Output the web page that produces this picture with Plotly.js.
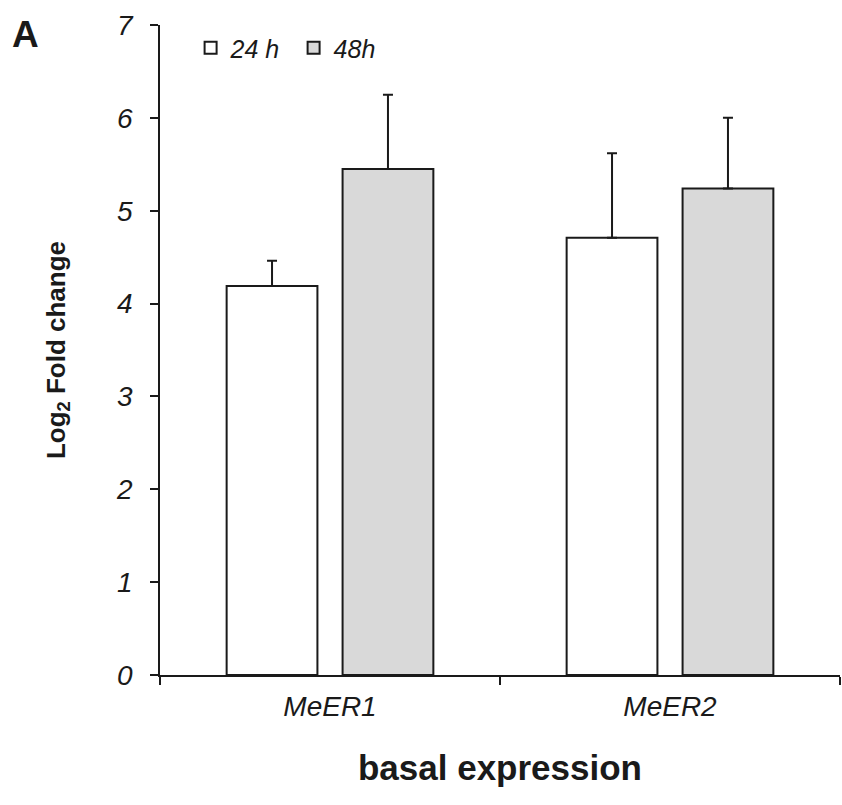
<!DOCTYPE html>
<html>
<head>
<meta charset="utf-8">
<script src="https://cdn.plot.ly/plotly-3.0.1.min.js"></script>
<style>html,body{margin:0;padding:0;background:#fff;}#chart{width:842px;height:805px;}</style>
</head>
<body>
<div id="chart"></div>
<script>
const categories = ["MeER1", "MeER2"];
const series24 = [4.19, 4.71];
const err24 = [0.27, 0.91];
const series48 = [5.45, 5.24];
const err48 = [0.80, 0.76];
const seriesNames = ["24 h", "48h"];
const yTicks = [0, 1, 2, 3, 4, 5, 6, 7];

const F = "Liberation Sans, Arial, sans-serif";
const lineCol = "#1a1a1a";

const traces = [
  {
    type: "bar", name: seriesNames[0], x: categories, y: series24,
    marker: {color: "#ffffff", line: {color: lineCol, width: 2}},
    error_y: {type: "data", array: err24, arrayminus: [0, 0], symmetric: false, color: lineCol, thickness: 2, width: 5}
  },
  {
    type: "bar", name: seriesNames[1], x: categories, y: series48,
    marker: {color: "#d9d9d9", line: {color: lineCol, width: 2}},
    error_y: {type: "data", array: err48, arrayminus: [0, 0], symmetric: false, color: lineCol, thickness: 2, width: 5}
  }
];

const layout = {
  width: 842, height: 805,
  margin: {l: 160, r: 2, t: 25, b: 130},
  paper_bgcolor: "#fff", plot_bgcolor: "#fff",
  barmode: "group", bargap: 0.318, bargroupgap: 0.217,
  font: {family: F, color: lineCol},
  showlegend: true,
  legend: {
    orientation: "h", x: 0.045, y: 1.0, xanchor: "left", yanchor: "top",
    font: {family: F, size: 25, style: "italic", color: lineCol},
    itemwidth: 30, entrywidth: 58, entrywidthmode: "pixels",
    tracegroupgap: 0, bgcolor: "rgba(0,0,0,0)"
  },
  xaxis: {
    type: "category", showline: true, linecolor: lineCol, linewidth: 1.5,
    ticks: "outside", tickson: "boundaries", ticklen: 8, tickwidth: 1.5, tickcolor: lineCol,
    tickfont: {family: F, size: 28, style: "italic", color: lineCol},
    ticklabelstandoff: 6,
    showgrid: false, zeroline: false,
    title: {text: "basal expression", font: {family: F, size: 35, weight: "bold", color: lineCol}, standoff: 34}
  },
  yaxis: {
    range: [0, 7], tickvals: yTicks, showline: true, linecolor: lineCol, linewidth: 1.5,
    ticks: "outside", ticklen: 8, tickwidth: 1.5, tickcolor: lineCol,
    tickfont: {family: F, size: 28, style: "italic", color: lineCol},
    ticklabelstandoff: 12,
    showgrid: false, zeroline: false,
    title: {text: "Log<sub>2</sub> Fold change", font: {family: F, size: 26, weight: "bold", color: lineCol}, standoff: 43}
  },
  annotations: [
    {text: "<b>A</b>", xref: "paper", yref: "paper", x: -0.221, y: 1.02, xanchor: "left", yanchor: "top",
     showarrow: false, font: {family: F, size: 37, color: lineCol}}
  ]
};

Plotly.newPlot("chart", traces, layout, {displayModeBar: false});
</script>
</body>
</html>
